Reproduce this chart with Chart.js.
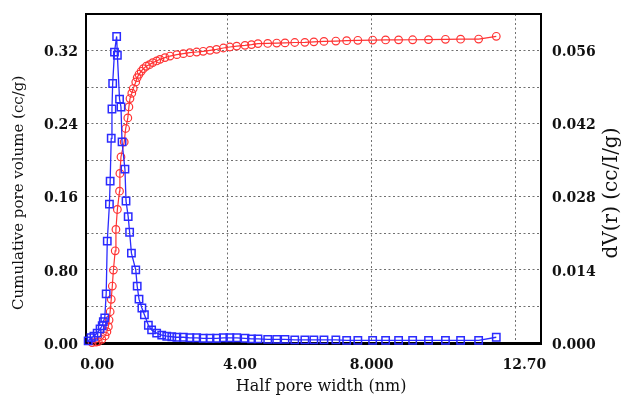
<!DOCTYPE html>
<html>
<head>
<meta charset="utf-8">
<script src="https://cdn.jsdelivr.net/npm/chart.js@4.4.1/dist/chart.umd.min.js"></script>
<style>
  html, body { margin: 0; padding: 0; background: #fff; }
  #wrap { width: 629px; height: 397px; }
</style>
</head>
<body>
<div id="wrap"><canvas id="chart" width="629" height="397"></canvas></div>
<script>
// cumulative pore volume (left axis), red circles
var cumX = [0.25,0.36,0.42,0.52,0.61,0.66,0.70,0.72,0.75,0.78,0.81,0.84,0.89,0.91,0.95,1.01,1.02,1.05,1.14,1.18,1.24,1.27,1.30,1.35,1.39,1.46,1.50,1.55,1.61,1.67,1.75,1.84,1.93,2.04,2.13,2.27,2.41,2.60,2.78,2.96,3.15,3.33,3.52,3.70,3.89,4.07,4.26,4.49,4.67,4.85,5.12,5.37,5.60,5.87,6.15,6.40,6.68,7.01,7.31,7.62,8.03,8.39,8.75,9.14,9.58,10.05,10.47,10.97,11.46]
var cumY = [0.0005,0.001,0.0014,0.004,0.0077,0.0124,0.0178,0.0251,0.0342,0.0478,0.0623,0.0798,0.1009,0.1243,0.1461,0.1661,0.1855,0.2036,0.2200,0.2347,0.2463,0.2583,0.2675,0.2733,0.2784,0.2856,0.2904,0.2940,0.2973,0.3002,0.3028,0.3046,0.3068,0.3086,0.3104,0.3123,0.3140,0.3155,0.3166,0.3177,0.3184,0.3192,0.3202,0.3213,0.3228,0.3239,0.3249,0.3257,0.3265,0.3276,0.3278,0.3282,0.3284,0.3288,0.3290,0.3295,0.3300,0.3304,0.3308,0.3312,0.3315,0.3316,0.3317,0.3318,0.3320,0.3323,0.3324,0.3326,0.3356]

// dV(r) (right axis), blue squares
var dvX = [0.14,0.22,0.30,0.39,0.47,0.53,0.56,0.60,0.64,0.67,0.73,0.75,0.78,0.80,0.82,0.87,0.93,0.95,1.01,1.05,1.08,1.16,1.19,1.25,1.29,1.34,1.46,1.50,1.55,1.63,1.70,1.81,1.90,2.04,2.18,2.32,2.46,2.60,2.78,2.96,3.15,3.33,3.52,3.70,3.89,4.07,4.26,4.49,4.67,4.85,5.12,5.37,5.60,5.87,6.15,6.40,6.68,7.01,7.31,7.62,8.03,8.39,8.75,9.14,9.58,10.05,10.47,10.97,11.46]
var dvY = [0.0004,0.001,0.0013,0.0019,0.0027,0.0033,0.0041,0.0048,0.0094,0.0195,0.0266,0.031,0.0392,0.0448,0.0497,0.0557,0.0587,0.0551,0.0467,0.0452,0.0385,0.0333,0.0272,0.0242,0.0212,0.0172,0.0140,0.0109,0.0084,0.0067,0.0054,0.0034,0.0025,0.0019,0.0015,0.0013,0.0012,0.0011,0.0011,0.0010,0.0010,0.0009,0.0009,0.0009,0.0010,0.0010,0.0010,0.0009,0.0008,0.0008,0.0007,0.0007,0.0007,0.0006,0.0006,0.0006,0.0006,0.0006,0.0005,0.0005,0.0005,0.0005,0.0005,0.0005,0.0005,0.0005,0.0005,0.0005,0.0011]

// axis ticks and labels
var xGridValues = [4, 8, 12]
var xLabelValues = [0.39, 4.35, 8, 12.24]
var xLabelText = ["0.00", "4.00", "8.000", "12.70"]
var leftLabelText = ["0.00", "0.80", "0.16", "0.24", "0.32"]   // every 0.08
var rightLabelText = ["0.000", "0.014", "0.028", "0.042", "0.056"] // every 0.014
var rightTitle = "dV(r) (cc/I/g)"

var tickFont = { family: "DejaVu Serif", size: 14, weight: "bold" }
var gridDotted = "#707070"
var gridDash = [2, 2.5]

function pts(xs, ys) {
  return xs.map(function (x, i) { return { x: x, y: ys[i] } })
}

// right axis title reads bottom-to-top in the original, draw it rotated -90
var rightTitlePlugin = {
  id: "rightTitle",
  afterDraw: function (chart) {
    var ctx = chart.ctx
    var s = chart.scales.yR
    ctx.save()
    ctx.translate(s.right - 17, 193)
    ctx.rotate(-Math.PI / 2)
    ctx.font = "20px 'DejaVu Serif'"
    ctx.fillStyle = "#111"
    ctx.textAlign = "center"
    ctx.textBaseline = "middle"
    ctx.fillText(rightTitle, 0, 0)
    ctx.restore()
  }
}

function fitVertical(w) {
  return function (scale) {
    scale.width = w
    scale.paddingTop = 0
    scale.paddingBottom = 0
  }
}

var config = {
  type: "line",
  data: {
    datasets: [
      {
        label: "dV(r)",
        data: pts(dvX, dvY),
        yAxisID: "yR",
        borderColor: "#2b2bff",
        borderWidth: 1.3,
        pointStyle: "rect",
        pointRadius: 5.2,
        pointBorderWidth: 1.5,
        pointBorderColor: "#2b2bff",
        pointBackgroundColor: "rgba(255,255,255,0)",
        tension: 0,
        clip: false
      },
      {
        label: "Cumulative",
        data: pts(cumX, cumY),
        yAxisID: "y",
        borderColor: "#ff3434",
        borderWidth: 1.2,
        pointStyle: "circle",
        pointRadius: 3.8,
        pointBorderWidth: 1.2,
        pointBorderColor: "#ff3434",
        pointBackgroundColor: "rgba(255,255,255,0)",
        tension: 0,
        clip: false
      }
    ]
  },
  options: {
    responsive: false,
    animation: false,
    devicePixelRatio: 1,
    layout: { padding: { left: 0, right: 0, top: 14, bottom: 0 } },
    plugins: {
      legend: { display: false },
      tooltip: { enabled: false }
    },
    scales: {
      x: {
        type: "linear",
        position: "bottom",
        min: 0.08,
        max: 12.7,
        afterBuildTicks: function (scale) {
          var vals = xGridValues.concat(xLabelValues).filter(function (v, i, a) { return a.indexOf(v) === i })
          vals.sort(function (a, b) { return a - b })
          scale.ticks = vals.map(function (v) { return { value: v } })
        },
        afterFit: function (scale) {
          scale.height = 54
          scale.paddingLeft = 0
          scale.paddingRight = 0
        },
        border: { display: true, color: "#000", width: 3, dash: gridDash },
        grid: {
          drawTicks: false,
          color: function (ctx) {
            if (ctx.tick && xGridValues.indexOf(ctx.tick.value) >= 0) return gridDotted
            return "rgba(0,0,0,0)"
          },
          lineWidth: 1
        },
        ticks: {
          autoSkip: false,
          maxRotation: 0,
          padding: 14,
          color: "#111",
          font: tickFont,
          callback: function (v) {
            var i = xLabelValues.indexOf(v)
            return i >= 0 ? xLabelText[i] : ""
          }
        },
        title: {
          display: true,
          text: "   Half pore width (nm)",
          color: "#111",
          font: { family: "DejaVu Serif", size: 16, lineHeight: 1 },
          padding: { top: 0, bottom: 2 }
        }
      },
      xTop: {
        type: "linear",
        position: "top",
        min: 0,
        max: 1,
        afterFit: function (scale) {
          scale.height = 0
          scale.paddingLeft = 0
          scale.paddingRight = 0
        },
        border: { display: true, color: "#000", width: 2 },
        grid: { drawOnChartArea: false, drawTicks: false },
        ticks: { display: false }
      },
      y: {
        type: "linear",
        position: "left",
        min: 0,
        max: 0.36,
        afterFit: fitVertical(86),
        border: { display: true, color: "#000", width: 2, dash: gridDash },
        grid: {
          drawTicks: false,
          color: gridDotted,
          lineWidth: 1
        },
        ticks: {
          stepSize: 0.04,
          padding: 8,
          labelOffset: 2,
          color: "#111",
          font: tickFont,
          callback: function (v) {
            var k = Math.round(v / 0.04)
            if (k % 2 !== 0) return ""
            return leftLabelText[k / 2] || ""
          }
        },
        title: {
          display: true,
          text: "Cumulative pore volume (cc/g)      ",
          color: "#111",
          font: { family: "DejaVu Serif", size: 15 },
          padding: { top: 10, bottom: 0 }
        }
      },
      yR: {
        type: "linear",
        position: "right",
        min: 0,
        max: 0.063,
        afterFit: fitVertical(88),
        border: { display: true, color: "#000", width: 2 },
        grid: { drawOnChartArea: false, drawTicks: false },
        ticks: {
          stepSize: 0.014,
          padding: 11,
          labelOffset: 2,
          color: "#111",
          font: tickFont,
          callback: function (v) {
            var k = Math.round(v / 0.014)
            if (Math.abs(v - k * 0.014) > 1e-6) return ""
            return rightLabelText[k] || ""
          }
        }
      }
    }
  },
  plugins: [rightTitlePlugin]
}

var chart = new Chart(document.getElementById("chart"), config)
</script>
</body>
</html>
